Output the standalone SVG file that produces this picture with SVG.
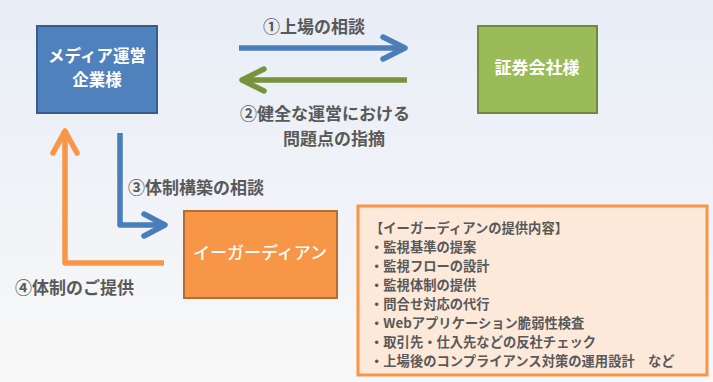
<svg xmlns="http://www.w3.org/2000/svg" width="713" height="382" viewBox="0 0 713 382">
<defs>
<linearGradient id="bg" x1="0" y1="0" x2="0" y2="1">
<stop offset="0" stop-color="#e8edf6"/>
<stop offset="1" stop-color="#f8f8f8"/>
</linearGradient>
<style>
text{font-family:"Noto Sans CJK JP","Noto Sans",sans-serif;}
.lbl{font-size:17px;font-weight:bold;fill:#595959;}
.wt{font-size:17px;font-weight:bold;fill:#ffffff;text-anchor:middle;}
.info{font-size:13.3px;font-weight:bold;fill:#595959;}
.ln{fill:none;stroke-width:5.5;}
.hd{fill:none;stroke-width:5.5;stroke-linecap:round;stroke-linejoin:round;}
</style>
</defs>
<rect x="0" y="0" width="713" height="382" fill="url(#bg)"/>
<g id="connectors">
<g id="c1">
<line class="ln" x1="239" y1="48" x2="403" y2="48" stroke="#4a7ebb"/>
<polyline class="hd" points="383,37 405,48 383,59" stroke="#4a7ebb"/>
</g>
<g id="c2">
<line class="ln" x1="407" y1="80" x2="243" y2="80" stroke="#77933c"/>
<polyline class="hd" points="264,69 242,80 264,91" stroke="#77933c"/>
</g>
<g id="c3">
<polyline class="ln" points="120,133 120,225 164,225" stroke="#4a7ebb" stroke-linejoin="round"/>
<polyline class="hd" points="144,214 165,225 144,236" stroke="#4a7ebb"/>
</g>
<g id="c4">
<polyline class="ln" points="164,263 65,263 65,133" stroke="#f79646" stroke-linejoin="round"/>
<polyline class="hd" points="53,153 65,131 77,153" stroke="#f79646"/>
</g>
</g>
<g id="media">
<rect x="37" y="26" width="120" height="87" fill="#4f81bd" stroke="#385d8a" stroke-width="2"/>
<text class="wt" x="97" y="62" style="font-size:16.5px">メディア運営</text>
<text class="wt" x="97" y="86" style="font-size:16.5px">企業様</text>
</g>
<g id="securities">
<rect x="478" y="26" width="119" height="87" fill="#9bbb59" stroke="#71893f" stroke-width="2"/>
<text class="wt" x="537" y="74">証券会社様</text>
</g>
<g id="egardian">
<rect x="184" y="211" width="153" height="87" fill="#f79646" stroke="#b66d31" stroke-width="2"/>
<text class="wt" x="260" y="259" style="font-weight:500">イーガーディアン</text>
</g>
<g id="labels">
<text class="lbl" x="240" y="120">②健全な運営における</text>
<text class="lbl" x="283" y="145">問題点の指摘</text>
<text class="lbl" x="263" y="33">①上場の相談</text>
<text class="lbl" x="128" y="194">③体制構築の相談</text>
<text class="lbl" x="15" y="294">④体制のご提供</text>
</g>
<g id="infobox">
<rect x="358" y="206" width="349" height="169" fill="#fde9d9" stroke="#f79646" stroke-width="3"/>
<text class="info" x="370" y="233">【イーガーディアンの提供内容】</text>
<text class="info" x="370" y="252">・監視基準の提案</text>
<text class="info" x="370" y="271">・監視フローの設計</text>
<text class="info" x="370" y="290">・監視体制の提供</text>
<text class="info" x="370" y="309">・問合せ対応の代行</text>
<text class="info" x="370" y="328">・Webアプリケーション脆弱性検査</text>
<text class="info" x="370" y="347">・取引先・仕入先などの反社チェック</text>
<text class="info" x="370" y="366">・上場後のコンプライアンス対策の運用設計　など</text>
</g>
</svg>
